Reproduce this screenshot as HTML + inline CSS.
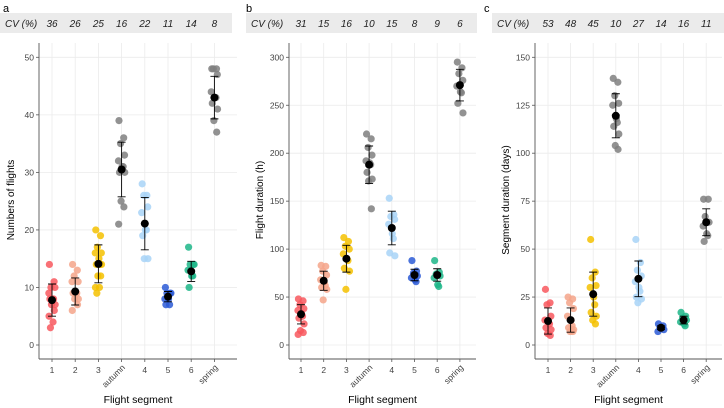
<!DOCTYPE html>
<html><head><meta charset="utf-8"><style>
body{margin:0;background:#fff;}
svg{display:block;font-family:"Liberation Sans",sans-serif;}
</style></head><body>
<svg id="s" width="724" height="408"></svg>
<script>
const categories=["1","2","3","autumn","4","5","6","spring"];
const colors=["#f8585e","#f4a58a","#f5c100","#7f7f7f","#a8d4f7","#2b5ad6","#1db688","#7f7f7f"];
const cvA=[36,26,25,16,22,11,14,8];
const cvB=[31,15,16,10,15,8,9,6];
const cvC=[53,48,45,10,27,14,16,11];
const pointsA=[[14,11,10,10,9,8,8,8,7,7,6,5,4,3],[14,13,12,11,11,9,9,9,8,8,7,6],[20,19,17,16,16,15,14,14,14,12,12,10,10,9],[39,36,35,33,32,31,31,30,30,25,24,21],[28,26,26,24,23,20,20,19,15,15],[10,9,9,9,8,8,7,7],[17,14,14,14,13,12,12,10],[48,48,48,47,44,43,43,42,41,39,37]];
const meanA=[7.8,9.3,14.1,30.5,21.1,8.4,12.8,43];
const sdA=[2.8,2.35,3.3,4.75,4.55,0.9,1.75,3.7];
const pointsB=[[48,46,42,38,36,33,30,28,22,15,13,11],[83,82,77,73,68,65,62,60,58,47],[112,108,103,100,95,90,88,80,77,58],[220,215,206,198,192,190,188,180,173,171,142],[153,136,134,131,126,116,111,96,93],[88,77,75,72,70,68,66],[88,76,74,72,70,63,61],[295,289,283,276,270,264,263,252,242]];
const meanB=[32,67,90,188,122,73,73,271];
const sdB=[10,10,14,19.5,17.5,6,6.5,16.5];
const pointsC=[[29,22,21,15,13,12,11,9,8,6,5],[25,24,22,19,15,13,10,9,8,7,7],[55,38,35,31,30,25,21,17,15,13,11],[139,137,130,126,125,118,116,114,110,104,102],[55,43,39,36,33,30,28,25,24,22],[11,10,9,8,7],[17,15,14,13,12,11,10],[76,76,67,64,62,58,57,54]];
const meanC=[12.5,13,26.5,119.5,34.5,9,13,64];
const sdC=[6.8,6.3,11.5,11.5,9.3,1,2,7];
const ticksA=[0,10,20,30,40,50];
const ticksB=[0,50,100,150,200,250,300];
const ticksC=[0,25,50,75,100,125,150];
const jit=[-0.25,0.2,-0.1,0.28,-0.3,0.05,0.15,-0.2,0.3,-0.05,0.22,-0.28,0.1,-0.15];
const NS="http://www.w3.org/2000/svg";
const svg=document.getElementById('s');
function mk(tag,at,parent){const e=document.createElementNS(NS,tag);for(const k in at)e.setAttribute(k,at[k]);(parent||svg).appendChild(e);return e;}
const panels=[
 {letter:"a",lx:3,bandX:0,bandW:232,axX:39,c0:52,step:23.2,right:237,ymax:50,ticks:ticksA,pts:pointsA,mean:meanA,sd:sdA,cv:cvA,title:"Numbers of flights",tx:14},
 {letter:"b",lx:246,bandX:246,bandW:231,axX:289,c0:301,step:22.7,right:476,ymax:300,ticks:ticksB,pts:pointsB,mean:meanB,sd:sdB,cv:cvB,title:"Flight duration (h)",tx:263},
 {letter:"c",lx:484,bandX:492,bandW:232,axX:535,c0:548,step:22.6,right:722,ymax:150,ticks:ticksC,pts:pointsC,mean:meanC,sd:sdC,cv:cvC,title:"Segment duration (days)",tx:509}
];
panels.forEach(p=>{
 const g=mk('g',{});
 
 
 const y=v=>345-v*(287.7/p.ymax);
 const x=i=>p.c0+i*p.step;
 const L=mk('text',{x:p.lx,y:12,'font-size':11,fill:'#000'},g);L.textContent=p.letter;
 
 const band=mk('rect',{x:p.bandX,y:13,width:p.bandW,height:20,fill:'#ebebeb'},g);
 
 const cvl=mk('text',{x:p.bandX+5,y:27,'font-size':10,'font-style':'italic',fill:'#222'},g);cvl.textContent="CV (%)";
 
 p.cv.forEach((v,i)=>{const t=mk('text',{x:x(i),y:27,'font-size':10,'font-style':'italic','text-anchor':'middle',fill:'#222'},g);t.textContent=v;
  });
 p.ticks.forEach(t=>{
  const gl=mk('line',{x1:p.axX,x2:p.right,y1:y(t),y2:y(t),stroke:'#ebebeb','stroke-width':0.8},g);
  
  mk('line',{x1:p.axX-3,x2:p.axX,y1:y(t),y2:y(t),stroke:'#555','stroke-width':0.8},g);
  const tl=mk('text',{x:p.axX-5,y:y(t)+3,'font-size':8.5,'text-anchor':'end',fill:'#444'},g);tl.textContent=t;
  
 });
 categories.forEach((c,i)=>{
  mk('line',{x1:x(i),x2:x(i),y1:43,y2:359,stroke:'#ebebeb','stroke-width':0.8},g);
  mk('line',{x1:x(i),x2:x(i),y1:359,y2:362,stroke:'#555','stroke-width':0.8},g);
  let t;
  if(c.length>1){t=mk('text',{x:x(i)+4,y:368,'font-size':8.5,'text-anchor':'end',fill:'#444',transform:`rotate(-45 ${x(i)+4} 368)`},g);}
  else t=mk('text',{x:x(i),y:373,'font-size':8.5,'text-anchor':'middle',fill:'#444'},g);
  t.textContent=c;
  
 });
 mk('line',{x1:p.axX,x2:p.axX,y1:43,y2:359,stroke:'#555','stroke-width':0.9},g);
 mk('line',{x1:p.axX,x2:p.right,y1:359,y2:359,stroke:'#555','stroke-width':0.9},g);
 p.pts.forEach((arr,i)=>{arr.forEach((v,j)=>{
  const d=mk('circle',{cx:x(i)+jit[j%jit.length]*p.step*0.45,cy:y(v),r:3.6,fill:colors[i],'fill-opacity':0.85},g);
  
 });});
 p.mean.forEach((m,i)=>{
  const lo=y(m-p.sd[i]),hi=y(m+p.sd[i]),cx=x(i);
  const eb=mk('path',{d:`M${cx},${lo}V${hi}M${cx-4},${lo}H${cx+4}M${cx-4},${hi}H${cx+4}`,stroke:'#000','stroke-width':0.9,fill:'none'},g);
  
  const mc=mk('circle',{cx:cx,cy:y(m),r:4,fill:'#000'},g);
  
 });
 const yt=mk('text',{x:p.tx,y:200,'font-size':10,'text-anchor':'middle',fill:'#000',transform:`rotate(-90 ${p.tx} 200)`},g);yt.textContent=p.title;
 
 const xt=mk('text',{x:(p.axX+p.right)/2,y:403,'font-size':10.5,'text-anchor':'middle',fill:'#000'},g);xt.textContent="Flight segment";
 
});
</script>
</body></html>
